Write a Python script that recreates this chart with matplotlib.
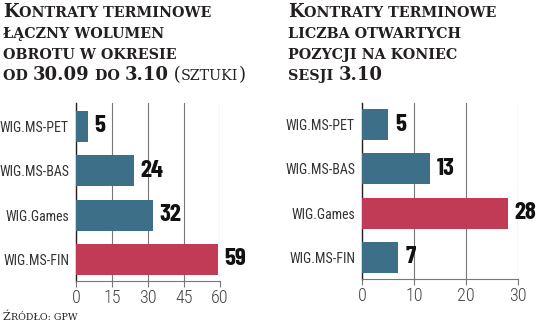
import matplotlib.pyplot as plt

names = ['WIG.MS-PET', 'WIG.MS-BAS', 'WIG.Games', 'WIG.MS-FIN']
wolumen = [5, 24, 32, 59]
pozycje = [5, 13, 28, 7]
ticks_left = [0, 15, 30, 45, 60]
ticks_right = [0, 10, 20, 30]

blue = '#3d6f88'
red = '#c13b57'
ink = '#231f20'

cond = ['Roboto Condensed', 'DejaVu Sans']
bold_cond = ['Barlow Condensed', 'Roboto Condensed', 'DejaVu Sans']
serif = ['DejaVu Serif']

fig = plt.figure(figsize=(5.36, 3.22), dpi=100)
renderer = fig.canvas.get_renderer()


def panel(rect, vals, hi, ticks, xmax, ylim):
    ax = fig.add_axes(rect)
    cols = [red if i == hi else blue for i in range(len(vals))]
    ax.barh(range(len(vals)), vals, height=0.7, color=cols, zorder=3)
    ax.set_xlim(0, xmax)
    ax.set_ylim(*ylim)
    ax.set_xticks(ticks)
    ax.set_yticks(range(len(vals)))
    ax.set_yticklabels(names)
    ax.grid(axis='x', color='#777777', lw=0.8, zorder=0)
    ax.tick_params(axis='y', length=0, pad=5, labelsize=10, labelcolor='#333333')
    ax.tick_params(axis='x', length=4, color='#777777', labelsize=13, labelcolor='#444444', pad=2)
    for lab in ax.get_yticklabels() + ax.get_xticklabels():
        lab.set_fontfamily(cond)
    for lab in ax.get_xticklabels():
        lab.set_fontweight('light')
    for s in ['top', 'right']:
        ax.spines[s].set_visible(False)
    ax.spines['left'].set_color('#222222')
    ax.spines['left'].set_linewidth(1.0)
    ax.spines['bottom'].set_color('#777777')
    ax.spines['bottom'].set_linewidth(0.8)
    for i, v in enumerate(vals):
        ax.text(v + xmax * 0.045, i, str(v), va='center', ha='left', fontsize=18,
                fontweight='bold', family=bold_cond, color='#111111', clip_on=False)
    return ax


panel([76 / 536, 1 - 281 / 322, 144 / 536, 178 / 322], wolumen, 3, ticks_left, 60, (3.49, -0.53))
panel([362 / 536, 1 - 279 / 322, 156 / 536, 176 / 322], pozycje, 2, ticks_right, 30, (3.485, -0.485))


# fake small caps: uppercase at two sizes, parts placed one after another
def title(x, lines):
    for y, parts in lines:
        cx = x
        for txt, size, weight in parts:
            t = fig.text(cx / 536, 1 - y / 322, txt, fontsize=size, fontweight=weight,
                         family=serif, color=ink, va='baseline', ha='left')
            cx += t.get_window_extent(renderer).width


title(3, [
    (17, [('K', 13, 'bold'), ('ONTRATY TERMINOWE', 10.3, 'bold')]),
    (38, [('ŁĄCZNY WOLUMEN', 10.3, 'bold')]),
    (59, [('OBROTU W OKRESIE', 10.3, 'bold')]),
    (80, [('OD ', 10.3, 'bold'), ('30.09', 13, 'bold'), (' DO ', 10.3, 'bold'),
          ('3.10', 13, 'bold'), (' (', 13, 'normal'), ('SZTUKI', 10.3, 'normal'), (')', 13, 'normal')]),
])

title(288, [
    (17, [('K', 13, 'bold'), ('ONTRATY TERMINOWE', 10.3, 'bold')]),
    (38, [('LICZBA OTWARTYCH', 10.3, 'bold')]),
    (59, [('POZYCJI NA KONIEC', 10.3, 'bold')]),
    (80, [('SESJI ', 10.3, 'bold'), ('3.10', 13, 'bold')]),
])

title(3, [(320, [('Ź', 8, 'normal'), ('RÓDŁO: GPW', 6.8, 'normal')])])

fig.savefig('out.png', dpi=100)
